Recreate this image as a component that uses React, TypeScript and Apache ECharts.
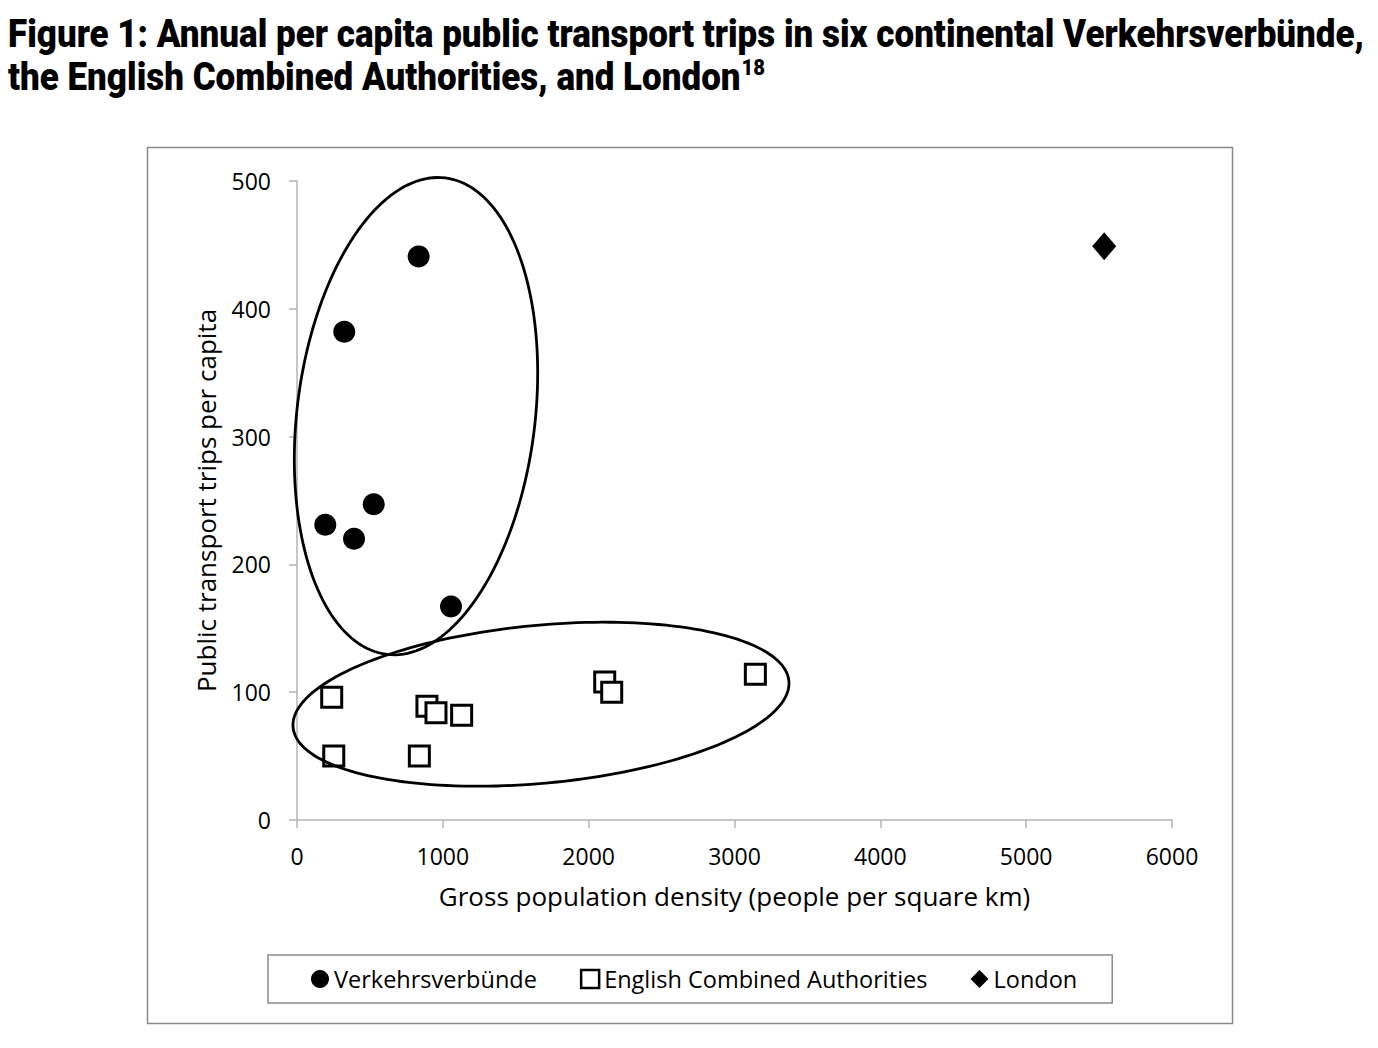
import React, { useEffect, useRef } from 'react';
import * as echarts from 'echarts';

// ---- data ----
const verkehrsX = [834, 324, 526, 194, 391, 1056];
const verkehrsY = [441, 382, 247, 231, 220, 167];
const ecaX = [238, 252, 891, 953, 1129, 839, 2110, 2158, 3143];
const ecaY = [96, 50, 89, 84, 82, 50, 108, 100, 114];
const londonX = [5535];
const londonY = [449];
const seriesNames = ['Verkehrsverbünde', 'English Combined Authorities', 'London'];

const xMin = 0;
const xMax = 6000;
const xStep = 1000;
const yMin = 0;
const yMax = 500;
const yStep = 100;

const titleLine1 = 'Figure 1: Annual per capita public transport trips in six continental Verkehrsverbünde,';
const titleLine2 = 'the English Combined Authorities, and London';
const titleSup = '18';
const xAxisName = 'Gross population density (people per square km)';
const yAxisName = 'Public transport trips per capita';

// annotation ellipses: centre in data units, radii in px, tilt in degrees
const groupEllipses = [
  { cx: 816, cy: 316, rx: 240, ry: 119, tilt: 83 },
  { cx: 1673, cy: 90.6, rx: 249, ry: 79, tilt: 5.35 },
];

const zip = (xs: number[], ys: number[]) => xs.map((x, i) => [x, ys[i]]);

const AXIS_FONT = '"Open Sans", "Noto Sans", sans-serif';
const TITLE_FONT_FAMILY = 'Roboto';
const TITLE_SIZE = 38;

function measure(text: string, font: string): number {
  const ctx = document.createElement('canvas').getContext('2d');
  if (!ctx) return text.length * 20;
  ctx.font = font;
  return ctx.measureText(text).width;
}

export default function App() {
  const ref = useRef<HTMLDivElement>(null);

  useEffect(() => {
    if (!ref.current) return;
    const chart = echarts.init(ref.current, null, { renderer: 'svg' });

    const titleFont = `900 ${TITLE_SIZE}px ${TITLE_FONT_FAMILY}`;
    const w1 = measure(titleLine1, titleFont);
    const targetW = 1364 - 8;
    const sx = targetW / w1;
    const w2 = measure(titleLine2, titleFont) * sx;

    const option: any = {
      animation: false,
      backgroundColor: '#ffffff',
      grid: { left: 297, top: 181, width: 875, height: 639, containLabel: false },
      xAxis: {
        type: 'value',
        min: xMin,
        max: xMax,
        interval: xStep,
        name: xAxisName,
        nameLocation: 'middle',
        nameGap: 63,
        nameTextStyle: { fontFamily: AXIS_FONT, fontSize: 26, color: '#000' },
        axisLine: { show: true, onZero: false, lineStyle: { color: '#b5b5b5', width: 1.5 } },
        axisTick: { show: true, inside: false, length: 8, lineStyle: { color: '#b5b5b5', width: 1.5 } },
        axisLabel: {
          fontFamily: AXIS_FONT,
          fontSize: 23,
          color: '#000',
          margin: 24,
          formatter: (v: number) => String(v),
        },
        splitLine: { show: false },
      },
      yAxis: {
        type: 'value',
        min: yMin,
        max: yMax,
        interval: yStep,
        name: yAxisName,
        nameLocation: 'middle',
        nameGap: 78,
        nameRotate: 90,
        nameTextStyle: { fontFamily: AXIS_FONT, fontSize: 26, color: '#000' },
        axisLine: { show: true, onZero: false, lineStyle: { color: '#b5b5b5', width: 1.5 } },
        axisTick: { show: true, inside: false, length: 8, lineStyle: { color: '#b5b5b5', width: 1.5 } },
        axisLabel: { fontFamily: AXIS_FONT, fontSize: 23, color: '#000', margin: 26 },
        splitLine: { show: false },
      },
      legend: {
        left: 268,
        top: 955,
        orient: 'horizontal',
        padding: [12, 35, 12, 43],
        itemGap: 43,
        itemWidth: 18,
        itemHeight: 18,
        borderColor: '#8a8a8a',
        borderWidth: 1.5,
        textStyle: { fontFamily: AXIS_FONT, fontSize: 23.5, color: '#000' },
        data: [
          { name: seriesNames[0], icon: 'circle', itemStyle: { color: '#000', borderWidth: 0 } },
          { name: seriesNames[1], icon: 'rect', itemStyle: { color: '#fff', borderColor: '#000', borderWidth: 2.5 } },
          { name: seriesNames[2], icon: 'diamond', itemStyle: { color: '#000', borderWidth: 0 } },
        ],
      },
      graphic: [
        {
          type: 'rect',
          shape: { x: 147.5, y: 147.5, width: 1085, height: 876 },
          style: { fill: 'none', stroke: '#8a8a8a', lineWidth: 1.5 },
          z: -1,
        },
        {
          type: 'text',
          x: 8,
          y: 15,
          scaleX: sx,
          style: { text: titleLine1, font: titleFont, fill: '#000', verticalAlign: 'top' },
        },
        {
          type: 'text',
          x: 8,
          y: 58,
          scaleX: sx,
          style: { text: titleLine2, font: titleFont, fill: '#000', verticalAlign: 'top' },
        },
        {
          type: 'text',
          x: 8 + w2 + 1,
          y: 56,
          scaleX: sx,
          style: { text: titleSup, font: `900 22px ${TITLE_FONT_FAMILY}`, fill: '#000', verticalAlign: 'top' },
        },
      ],
      series: [
        {
          name: seriesNames[0],
          type: 'scatter',
          data: zip(verkehrsX, verkehrsY),
          symbol: 'circle',
          symbolSize: 22,
          itemStyle: { color: '#000', opacity: 1 },
          z: 3,
        },
        {
          name: seriesNames[1],
          type: 'scatter',
          data: zip(ecaX, ecaY),
          symbol: 'rect',
          symbolSize: 20,
          itemStyle: { color: '#fff', borderColor: '#000', borderWidth: 3, opacity: 1 },
          z: 3,
        },
        {
          name: seriesNames[2],
          type: 'scatter',
          data: zip(londonX, londonY),
          symbol: 'diamond',
          symbolSize: [24, 28],
          itemStyle: { color: '#000', opacity: 1 },
          z: 3,
        },
        {
          name: 'groups',
          type: 'custom',
          silent: true,
          clip: false,
          z: 4,
          data: groupEllipses.map((e) => [e.cx, e.cy]),
          renderItem: (params: any, api: any) => {
            const e = groupEllipses[params.dataIndex];
            const c = api.coord([api.value(0), api.value(1)]);
            const t = (e.tilt * Math.PI) / 180;
            const pts: number[][] = [];
            const n = 180;
            for (let i = 0; i < n; i++) {
              const a = (i / n) * Math.PI * 2;
              const u = e.rx * Math.cos(a);
              const v = e.ry * Math.sin(a);
              pts.push([c[0] + u * Math.cos(t) + v * Math.sin(t), c[1] - u * Math.sin(t) + v * Math.cos(t)]);
            }
            return {
              type: 'polygon',
              shape: { points: pts },
              style: { fill: 'none', stroke: '#000', lineWidth: 2.8 },
            };
          },
        },
      ],
    };

    chart.setOption(option);
    return () => chart.dispose();
  }, []);

  return (
    <div
      ref={ref}
      style={{ position: 'absolute', left: 0, top: 0, width: 1378, height: 1048, background: '#fff' }}
    />
  );
}
